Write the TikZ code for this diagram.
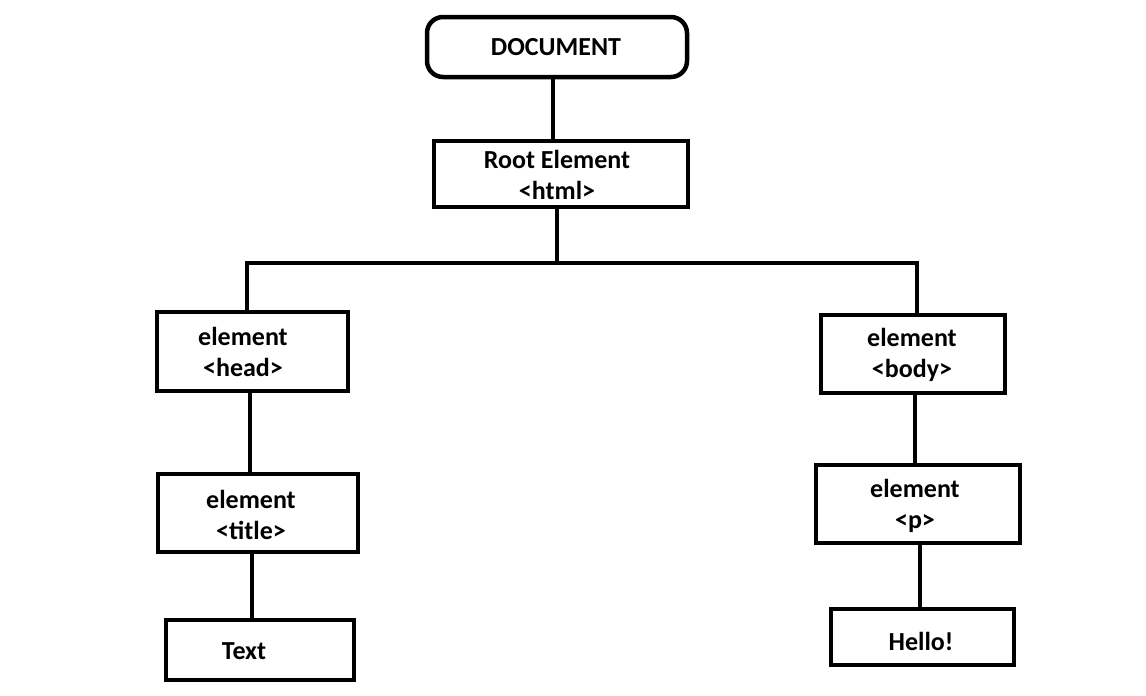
\documentclass[tikz,border=0pt]{standalone}
\usepackage{fontspec}
\setmainfont{Carlito}
\begin{document}
\begin{tikzpicture}[x=1pt,y=-1pt,
  box/.style={draw=black,line width=4.5pt,rectangle,inner sep=0pt},
  lbl/.style={font=\fontsize{26}{31.5}\selectfont\bfseries,align=center,inner sep=0pt},
  conn/.style={draw=black,line width=4.5pt}]
\useasboundingbox[fill=white] (0,0) rectangle (1146,696);
% boxes
\node[box,rounded corners=16pt,minimum width=260pt,minimum height=60pt] (doc) at (557,47) {};
\node[box,minimum width=254pt,minimum height=66pt] (root) at (561,174) {};
\node[box,minimum width=191pt,minimum height=79pt] (head) at (252.5,351.5) {};
\node[box,minimum width=184pt,minimum height=78pt] (body) at (913,354) {};
\node[box,minimum width=200pt,minimum height=78pt] (title) at (258,513) {};
\node[box,minimum width=204pt,minimum height=78pt] (p) at (918,504) {};
\node[box,minimum width=188pt,minimum height=60pt] (txt) at (260,650) {};
\node[box,minimum width=183pt,minimum height=56pt] (hello) at (922.5,637) {};
% labels
\node[lbl] (tdoc) at (556,47) {DOCUMENT};
\node[lbl] (troot) at (557,175) {Root Element\\<html>};
\node[lbl] (thead) at (243,352) {element\\<head>};
\node[lbl] (tbody) at (912,355) {element\\<body>};
\node[lbl] (ttitle) at (251,515) {element\\<title>};
\node[lbl] (tp) at (915,506) {element\\<p>};
\node[lbl] (ttxt) at (244,651) {Text};
\node[lbl] (thello) at (921,641) {Hello!};
% connector x positions
\coordinate (x1) at (553,0);
\coordinate (bus) at (557,263);
\coordinate (xl) at (247,0);
\coordinate (xr) at (917,0);
\coordinate (x2) at (250,0);
\coordinate (x3) at (252,0);
\coordinate (x4) at (915,0);
\coordinate (x5) at (920,0);
% connectors
\draw[conn] (doc.south -| x1) -- (root.north -| x1);
\draw[conn] (root.south -| bus) -- (bus);
\draw[conn,line join=miter] (head.north -| xl) |- (bus) -| (body.north -| xr);
\draw[conn] (head.south -| x2) -- (title.north -| x2);
\draw[conn] (title.south -| x3) -- (txt.north -| x3);
\draw[conn] (body.south -| x4) -- (p.north -| x4);
\draw[conn] (p.south -| x5) -- (hello.north -| x5);
\end{tikzpicture}
\end{document}
